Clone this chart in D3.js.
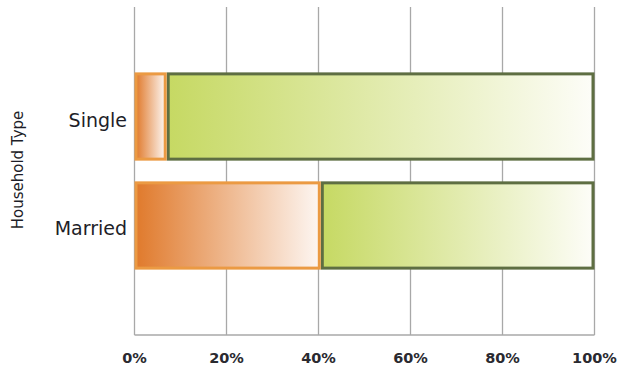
<!DOCTYPE html>
<html><head><meta charset="utf-8">
<script src="https://cdn.jsdelivr.net/npm/d3@7"></script>
<style>body{margin:0;background:#fff}svg{display:block}</style>
</head><body><svg id="c" width="619" height="376"></svg>
<script>
const categories = ["Single", "Married"];
const seriesNames = ["Yes", "No"];
const seriesA = [7, 40.5];
const seriesB = [93, 59.5];
const ticks = [0, 20, 40, 60, 80, 100];
const yTitle = "Household Type";

const svg = d3.select("#c");
const m = {l: 134.5, r: 594.5, t: 7, b: 335};
const x = d3.scaleLinear().domain([0, 100]).range([m.l, m.r]);
const y = d3.scaleBand().domain(categories).range([m.t, m.b]).paddingInner(0.19).paddingOuter(0.6);

const defs = svg.append("defs");
const g1 = defs.append("linearGradient").attr("id", "gO").attr("x1", "0").attr("x2", "1").attr("y1", "0").attr("y2", "0");
g1.append("stop").attr("offset", "0").attr("stop-color", "#e07a2c");
g1.append("stop").attr("offset", "1").attr("stop-color", "#fdf6f2");
const g2 = defs.append("linearGradient").attr("id", "gG").attr("x1", "0").attr("x2", "1").attr("y1", "0").attr("y2", "0");
g2.append("stop").attr("offset", "0").attr("stop-color", "#c6d963");
g2.append("stop").attr("offset", "1").attr("stop-color", "#fdfdf8");

// grid
svg.append("g").selectAll("line").data(ticks).join("line")
  .attr("x1", d => x(d)).attr("x2", d => x(d)).attr("y1", m.t).attr("y2", m.b)
  .attr("stroke", "#a8a8a8").attr("stroke-width", 1.3);
svg.append("line").attr("x1", m.l).attr("x2", m.r).attr("y1", m.b).attr("y2", m.b)
  .attr("stroke", "#a8a8a8").attr("stroke-width", 1.3);

// bars
const stacked = categories.map((c, i) => ({c, a: seriesA[i], b: seriesB[i]}));
svg.append("g").selectAll("rect").data(stacked).join("rect")
  .attr("x", d => x(d.a) + 1.5).attr("width", d => x(d.a + d.b) - x(d.a) - 3)
  .attr("y", d => y(d.c) + 1.5).attr("height", y.bandwidth() - 3)
  .attr("fill", "url(#gG)").attr("stroke", "#5e6e42").attr("stroke-width", 3);
svg.append("g").selectAll("rect").data(stacked).join("rect")
  .attr("x", d => x(0) + 1.5).attr("width", d => x(d.a) - x(0) - 3)
  .attr("y", d => y(d.c) + 1.5).attr("height", y.bandwidth() - 3)
  .attr("fill", "url(#gO)").attr("stroke", "#eb9a43").attr("stroke-width", 3);

// axes labels
const font = "DejaVu Sans";
svg.append("g").selectAll("text").data(categories).join("text")
  .attr("x", 127).attr("y", d => y(d) + y.bandwidth() / 2 + 10)
  .attr("text-anchor", "end").attr("font-family", font).attr("font-size", 19)
  .attr("fill", "#1e1e28").text(d => d);
svg.append("g").selectAll("text").data(ticks).join("text")
  .attr("x", d => x(d)).attr("y", 363)
  .attr("text-anchor", "middle").attr("font-family", font).attr("font-size", 14.5).attr("font-weight", "bold")
  .attr("fill", "#2a2a30").text(d => d + "%");
svg.append("text").attr("transform", "translate(22.5,170) rotate(-90)")
  .attr("text-anchor", "middle").attr("font-family", font).attr("font-size", 15)
  .attr("fill", "#1e1e28").text(yTitle);
</script></body></html>
